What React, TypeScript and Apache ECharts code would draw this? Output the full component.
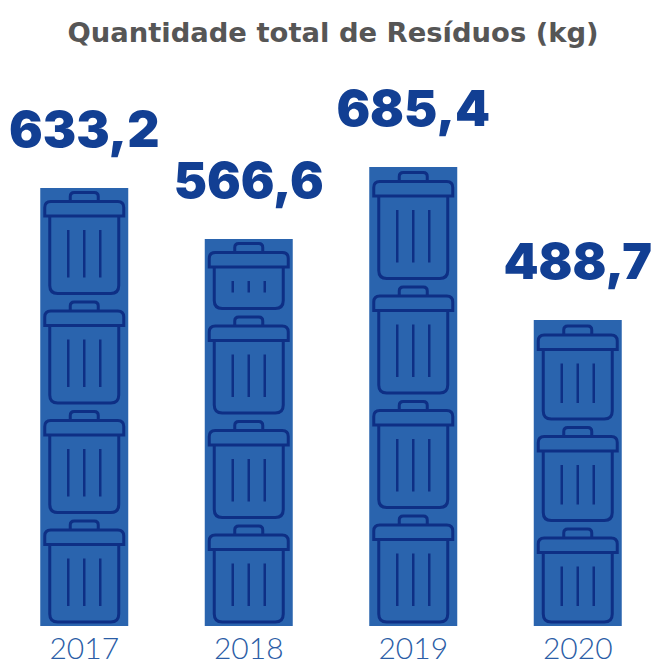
import React, { useEffect, useRef } from "react";
import * as echarts from "echarts";

const titleText = "Quantidade total de Resíduos (kg)";
const years = ["2017", "2018", "2019", "2020"];
// Printed labels (kg)
const printedValues = ["633,2", "566,6", "685,4", "488,7"];
// The reference's bars are not proportional to their printed values, so the drawn bar heights are read off the picture.
const barHeights = [438, 387, 459, 306];
// Height of every bin in a column, from the bottom up.
const binHeights = [
  [101, 101, 101, 101],
  [96, 96, 96, 65],
  [106, 106, 106, 106],
  [93, 93, 93],
];

const BAR = "#2a64ae";
const INK = "#0e2f85";

function renderBins(params: any, api: any) {
  const i = api.value(0);
  const [cx, y0] = api.coord([i, 0]);
  const scale = y0 - api.coord([i, 1])[1];
  const sw = 3;
  const children: any[] = [];
  const style = { stroke: INK, fill: null, lineWidth: sw };
  let bottom = y0 - 4;
  for (const h of binHeights[params.dataIndex]) {
    const ph = h * scale;
    const top = bottom - ph;
    const lidTop = top + 9;
    const lidBottom = top + 23.5;
    const l = cx - 39.5;
    const r = cx + 39.5;
    const bl = cx - 34.5;
    const br = cx + 34.5;
    const d =
      `M${cx - 14} ${lidTop}V${top + 4}Q${cx - 14} ${top} ${cx - 10} ${top}H${cx + 10}Q${cx + 14} ${top} ${cx + 14} ${top + 4}V${lidTop}` +
      `M${l} ${lidBottom}V${lidTop + 6}Q${l} ${lidTop} ${l + 6} ${lidTop}H${r - 6}Q${r} ${lidTop} ${r} ${lidTop + 6}V${lidBottom}Z` +
      `M${bl} ${lidBottom}V${bottom - 8}Q${bl} ${bottom} ${bl + 8} ${bottom}H${br - 8}Q${br} ${bottom} ${br} ${bottom - 8}V${lidBottom}`;
    children.push({
      type: "path",
      shape: { pathData: d, layout: "cover", x: l, y: top, width: r - l, height: ph },
      style,
      silent: true,
    });
    const y1 = lidBottom + 14;
    const y2 = bottom - 16;
    for (const dx of [-16, 0, 16]) {
      children.push({
        type: "line",
        shape: { x1: cx + dx, y1, x2: cx + dx, y2 },
        style: { stroke: INK, lineWidth: 2.5 },
        silent: true,
      });
    }
    bottom = top - 8.5;
  }
  return { type: "group", children };
}

export default function App() {
  const ref = useRef<HTMLDivElement>(null);
  useEffect(() => {
    document.body.style.margin = "0";
    const chart = echarts.init(ref.current!, null, { renderer: "svg" });
    chart.setOption({
      animation: false,
      backgroundColor: "#ffffff",
      title: {
        text: titleText,
        left: 328,
        top: 14,
        textAlign: "center",
        textStyle: { fontFamily: "DejaVu Sans", fontWeight: 700, fontSize: 27.4, color: "#565656" },
      },
      grid: { left: 2, width: 658, top: 0, bottom: 36 },
      xAxis: {
        type: "category",
        data: years,
        axisLine: { show: false },
        axisTick: { show: false },
        axisLabel: {
          fontFamily: "Lato",
          fontWeight: 300,
          fontSize: 30,
          lineHeight: 24,
          color: "#2b5da6",
          margin: 9,
        },
      },
      yAxis: { type: "value", min: 0, max: 626, show: false, splitLine: { show: false } },
      series: [
        {
          type: "bar",
          data: barHeights,
          barWidth: 88,
          itemStyle: { color: BAR },
          label: {
            show: true,
            position: "top",
            distance: 34,
            formatter: (p: any) => printedValues[p.dataIndex],
            fontFamily: "Inter",
            fontWeight: 900,
            fontSize: 50,
            color: "#123f93",
          },
        },
        {
          type: "custom",
          data: years.map((_, i) => [i, barHeights[i]]),
          renderItem: renderBins,
          encode: { x: 0, y: 1 },
          z: 5,
          silent: true,
        },
      ],
    });
    return () => chart.dispose();
  }, []);
  return (
    <div style={{ width: 655, height: 662, overflow: "hidden" }}>
      <div ref={ref} style={{ width: 662, height: 662 }} />
    </div>
  );
}
